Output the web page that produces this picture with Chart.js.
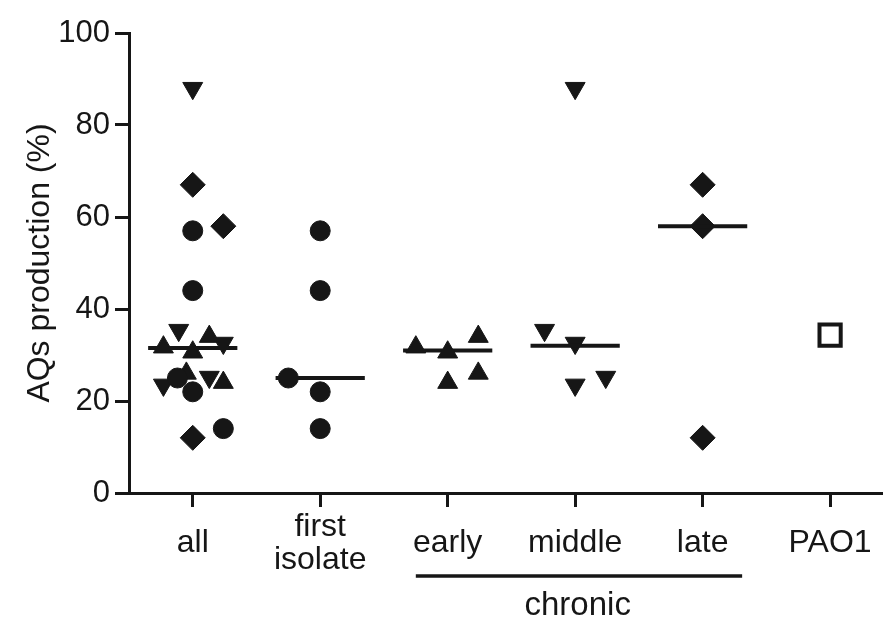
<!DOCTYPE html>
<html>
<head>
<meta charset="utf-8">
<script src="https://cdn.jsdelivr.net/npm/chart.js@4.4.1/dist/chart.umd.min.js"></script>
<style>
  html, body { margin: 0; padding: 0; background: #fff; }
</style>
</head>
<body>
<canvas id="chart" width="883" height="620"></canvas>
<script>
// categories on the x axis (array = two-line label)
const categories = ["all", ["first", "isolate"], "early", "middle", "late", "PAO1"];
const yTicks = [0, 20, 40, 60, 80, 100];
const yTitle = "AQs production (%)";
const chronicLabel = "chronic";

// first isolate (circles)
const firstIsolateY = [57, 44, 25, 22, 14];
const firstIsolateX = [2, 2, 1.75, 2, 2];
// chronic early (up triangles)
const earlyY = [34, 31.7, 30.6, 26, 24];
const earlyX = [3.24, 2.75, 3, 3.24, 3];
// chronic middle (down triangles)
const middleY = [88, 35.4, 32.6, 25.2, 23.5];
const middleX = [4, 3.76, 4, 4.24, 4];
// chronic late (diamonds)
const lateY = [67, 58, 12];
const lateX = [5, 5, 5];
// reference strain
const pao1Y = [34.3];
const pao1X = [6];

// the "all" column shows every isolate again, scattered sideways
const allCircleX = [1, 1, 0.88, 1, 1.24];
const allUpX = [1.13, 0.77, 1, 0.95, 1.24];
const allDownX = [1, 0.89, 1.24, 1.13, 0.77];
const allDiamondX = [1, 1.24, 1];

// medians per column
const medians = [31.5, 25, 31, 32, 58];
const medianX = [1, 2, 3, 4, 5];

const ink = "#161616";
const fontFamily = "'Liberation Sans', Arial, Helvetica, sans-serif";

function pts(xs, ys) {
  return ys.map((y, i) => ({ x: xs[i], y: y }));
}

function markers(label, xs, ys, style, extra) {
  return Object.assign({
    label: label,
    data: pts(xs, ys),
    pointStyle: style,
    backgroundColor: ink,
    borderColor: ink,
    borderWidth: 1,
    pointRadius: 10,
    pointHoverRadius: 10,
    order: 2
  }, extra || {});
}

const circle = { pointRadius: 10 };
const up = { pointRadius: 11.5 };
const down = { pointRadius: 11.5, rotation: 180 };
const diamond = { pointRadius: 12.5 };

const datasets = [
  markers("all circles", allCircleX, firstIsolateY, "circle", circle),
  markers("all up", allUpX, earlyY, "triangle", up),
  markers("all down", allDownX, middleY, "triangle", down),
  markers("all diamonds", allDiamondX, lateY, "rectRot", diamond),
  markers("first isolate", firstIsolateX, firstIsolateY, "circle", circle),
  markers("early", earlyX, earlyY, "triangle", up),
  markers("middle", middleX, middleY, "triangle", down),
  markers("late", lateX, lateY, "rectRot", diamond),
  markers("PAO1", pao1X, pao1Y, "rect", { pointRadius: 15, borderWidth: 4, backgroundColor: "#fff" })
];

medians.forEach((m, i) => {
  datasets.push({
    label: "median",
    data: [{ x: medianX[i] - 0.35, y: m }, { x: medianX[i] + 0.35, y: m }],
    showLine: true,
    borderColor: ink,
    borderWidth: 4,
    pointRadius: 0,
    order: 0
  });
});

// underline + "chronic" below the three chronic columns
const chronicBar = {
  id: "chronicBar",
  afterDraw(chart) {
    const ctx = chart.ctx;
    const xs = chart.scales.x;
    const x0 = xs.getPixelForValue(2.75);
    const x1 = xs.getPixelForValue(5.31);
    ctx.save();
    ctx.strokeStyle = ink;
    ctx.lineWidth = 3.5;
    ctx.beginPath();
    ctx.moveTo(x0, 576);
    ctx.lineTo(x1, 576);
    ctx.stroke();
    ctx.fillStyle = ink;
    ctx.font = "33px " + fontFamily;
    ctx.textAlign = "center";
    ctx.textBaseline = "alphabetic";
    ctx.fillText(chronicLabel, xs.getPixelForValue(4.02), 615);
    ctx.restore();
  }
};

Chart.defaults.font.family = fontFamily;
Chart.defaults.color = ink;

new Chart(document.getElementById("chart"), {
  type: "scatter",
  data: { datasets: datasets },
  plugins: [chronicBar],
  options: {
    responsive: false,
    animation: false,
    layout: { autoPadding: false, padding: { top: 33, right: 0, left: 0, bottom: 0 } },
    plugins: {
      legend: { display: false },
      tooltip: { enabled: false }
    },
    scales: {
      x: {
        type: "linear",
        min: 0.5,
        max: 6.415,
        afterBuildTicks: (s) => { s.ticks = categories.map((c, i) => ({ value: i + 1 })); },
        afterFit: (s) => {
          s.height = 127;
          s.paddingLeft = 0;
          s.paddingRight = 0;
        },
        ticks: {
          callback: (v, i) => categories[i],
          font: { size: 32, lineHeight: 1.03 },
          color: ink,
          padding: 20,
          crossAlign: "center",
          maxRotation: 0,
          autoSkip: false
        },
        grid: { drawOnChartArea: false, tickLength: 14, tickWidth: 3, tickColor: ink },
        border: { color: ink, width: 3 }
      },
      y: {
        min: 0,
        max: 100,
        afterBuildTicks: (s) => { s.ticks = yTicks.map((v) => ({ value: v })); },
        afterFit: (s) => { s.width = 129; },
        ticks: {
          font: { size: 31 },
          color: ink,
          padding: 5
        },
        title: {
          display: true,
          text: yTitle,
          font: { size: 32 },
          color: ink,
          padding: { top: 21, bottom: 0 }
        },
        grid: { drawOnChartArea: false, tickLength: 14, tickWidth: 3, tickColor: ink },
        border: { color: ink, width: 3 }
      }
    }
  }
});
</script>
</body>
</html>
